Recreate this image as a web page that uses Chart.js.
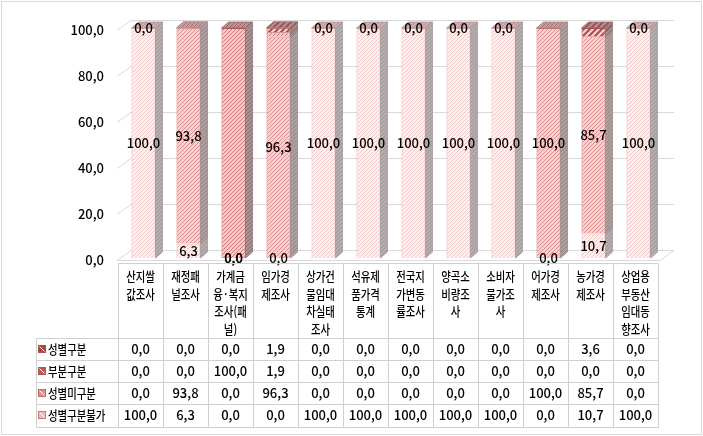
<!DOCTYPE html>
<html><head><meta charset="utf-8">
<script src="https://cdn.jsdelivr.net/npm/chart.js@4.4.1/dist/chart.umd.min.js"></script>
<style>html,body{margin:0;padding:0;background:#fff;}canvas{display:block;}</style>
</head><body>
<canvas id="c" width="703" height="436"></canvas>
<script>
// ---- data ----
const categories = [
  ['산지쌀','값조사'], ['재정패','널조사'], ['가계금','융·복지','조사(패','널)'], ['임가경','제조사'],
  ['상가건','물임대','차실태','조사'], ['석유제','품가격','통계'], ['전국지','가변동','률조사'], ['양곡소','비량조','사'],
  ['소비자','물가조','사'], ['어가경','제조사'], ['농가경','제조사'], ['상업용','부동산','임대동','향조사']
];
const seriesNames = ['성별구분', '부분구분', '성별미구분', '성별구분불가'];
const sexSplit     = [0, 0, 0, 1.9, 0, 0, 0, 0, 0, 0, 3.6, 0];
const partialSplit = [0, 0, 100, 1.9, 0, 0, 0, 0, 0, 0, 0, 0];
const notSplit     = [0, 93.8, 0, 96.3, 0, 0, 0, 0, 0, 100, 85.7, 0];
const cannotSplit  = [100, 6.3, 0, 0, 100, 100, 100, 100, 100, 0, 10.7, 100];
const yMin = 0, yMax = 100, yStep = 20;

// ---- styling helpers ----
const FONT = '"Noto Sans CJK KR", "Noto Sans", sans-serif';
const fmt = v => Number(v).toFixed(1).replace('.', ',');
function hatch(bg, fg, size, lw) {
  const c = document.createElement('canvas'); c.width = size; c.height = size;
  const x = c.getContext('2d');
  x.fillStyle = bg; x.fillRect(0, 0, size, size);
  x.strokeStyle = fg; x.lineWidth = lw; x.beginPath();
  x.moveTo(-1, 1); x.lineTo(1, -1);
  x.moveTo(0, size); x.lineTo(size, 0);
  x.moveTo(size - 1, size + 1); x.lineTo(size + 1, size - 1);
  x.stroke();
  return x.createPattern(c, 'repeat');
}
function narrowText(ctx, s, x, y, align, sx) {
  ctx.save(); ctx.translate(x, y); ctx.scale(sx, 1); ctx.textAlign = align; ctx.fillText(s, 0, 0); ctx.restore();
}
const WX = 14, WY = 10;   // wall depth
const BX = 7, BY = 6;     // bar depth
const SHIFT_X = 3, SHIFT_Y = -2;

function mk(label, data, st) {
  return Object.assign({ label, data, stack: 's', borderWidth: 1, barPercentage: 0.533, categoryPercentage: 1 }, st);
}
const datasets = [
  mk(seriesNames[3], cannotSplit, { backgroundColor: hatch('#fdf1f1', '#f3c6c6', 4, 1), borderColor: '#e8a9a9',
      sideFill: hatch('#b5adad', '#a09797', 4, 1), sideBorder: '#a39a9a', topFill: hatch('#d2afaf', '#bb8f8f', 4, 1), key: '#ebbcbc', showLabels: true }),
  mk(seriesNames[2], notSplit, { backgroundColor: hatch('#f8d2d2', '#dd8f8f', 4, 1), borderColor: '#cc6e6e',
      sideFill: hatch('#ad9f9f', '#968585', 4, 1), sideBorder: '#9a8a8a', topFill: hatch('#c79a9a', '#a97474', 4, 1), key: '#d99191', showLabels: true }),
  mk(seriesNames[1], partialSplit, { backgroundColor: hatch('#f5cccc', '#d27474', 4, 1), borderColor: '#b85252',
      sideFill: hatch('#a89090', '#8c7070', 4, 1), sideBorder: '#8c7070', topFill: hatch('#c29090', '#a06666', 4, 1), key: '#b85a5a', showLabels: false }),
  mk(seriesNames[0], sexSplit, { backgroundColor: hatch('#f6d6d6', '#b84a4a', 6, 2.2), borderColor: '#a84242',
      sideFill: hatch('#a88e8e', '#8a6262', 6, 2), sideBorder: '#8c7070', topFill: hatch('#c08c8c', '#9a5656', 6, 2), key: '#a44848', showLabels: false })
];

const threeD = {
  id: 'threeD',
  beforeDraw(chart) {
    const ctx = chart.ctx;
    ctx.save();
    ctx.fillStyle = '#fff'; ctx.fillRect(0, 0, chart.width, chart.height);
    ctx.strokeStyle = '#d9d9d9'; ctx.lineWidth = 1;
    ctx.strokeRect(1.5, 1.5, chart.width - 3, chart.height - 3);
    ctx.restore();
  },
  beforeDatasetsDraw(chart) {
    const { ctx, chartArea: a, scales: { y } } = chart;
    ctx.save();
    ctx.strokeStyle = '#d9d9d9'; ctx.lineWidth = 1;
    const y0 = Math.round(y.getPixelForValue(0)) + 0.5;
    ctx.beginPath();
    ctx.moveTo(a.left - 1, y0); ctx.lineTo(a.right + 2, y0);
    ctx.lineTo(a.right + 2 + WX, y0 - WY); ctx.lineTo(a.left - 1 + WX, y0 - WY); ctx.closePath();
    ctx.fillStyle = '#fff'; ctx.fill(); ctx.stroke();
    for (let v = yMin + yStep; v <= yMax; v += yStep) {
      const py = Math.round(y.getPixelForValue(v)) + 0.5;
      ctx.beginPath();
      ctx.moveTo(a.left - 1, py); ctx.lineTo(a.left - 1 + WX, py - WY); ctx.lineTo(a.right + 2 + WX, py - WY);
      ctx.stroke();
    }
    ctx.restore();
    ctx.save();
    ctx.translate(SHIFT_X, SHIFT_Y);
  },
  afterDatasetsDraw(chart) {
    const ctx = chart.ctx;
    const dsets = chart.data.datasets;
    const n = categories.length;
    // side faces
    dsets.forEach((ds, di) => {
      const m = chart.getDatasetMeta(di);
      m.data.forEach((bar, i) => {
        if (!ds.data[i]) return;
        const p = bar.getProps(['x', 'y', 'base', 'width'], true);
        const r = p.x + p.width / 2;
        const top = Math.min(p.y, p.base), bot = Math.max(p.y, p.base);
        ctx.beginPath();
        ctx.moveTo(r, bot); ctx.lineTo(r + BX, bot - BY); ctx.lineTo(r + BX, top - BY); ctx.lineTo(r, top); ctx.closePath();
        ctx.fillStyle = ds.sideFill; ctx.fill();
        ctx.strokeStyle = ds.sideBorder; ctx.lineWidth = 0.8; ctx.stroke();
      });
    });
    // top faces
    for (let i = 0; i < n; i++) {
      let topDi = -1;
      dsets.forEach((ds, di) => { if (ds.data[i] > 0) topDi = di; });
      if (topDi < 0) continue;
      const p = chart.getDatasetMeta(topDi).data[i].getProps(['x', 'y', 'base', 'width'], true);
      const l = p.x - p.width / 2, r = p.x + p.width / 2, t = Math.min(p.y, p.base);
      ctx.beginPath();
      ctx.moveTo(l, t); ctx.lineTo(r, t); ctx.lineTo(r + BX, t - BY); ctx.lineTo(l + BX, t - BY); ctx.closePath();
      ctx.fillStyle = dsets[topDi].topFill; ctx.fill();
      ctx.strokeStyle = dsets[topDi].sideBorder; ctx.lineWidth = 0.8; ctx.stroke();
    }
    // data labels
    ctx.font = '500 13px ' + FONT; ctx.fillStyle = '#000'; ctx.textAlign = 'center'; ctx.textBaseline = 'middle';
    dsets.forEach((ds, di) => {
      if (!ds.showLabels) return;
      chart.getDatasetMeta(di).data.forEach((bar, i) => {
        const p = bar.getProps(['x', 'y', 'base'], true);
        ctx.fillText(fmt(ds.data[i]), p.x, (p.y + p.base) / 2);
      });
    });
    ctx.restore();

    // ---- data table ----
    const a = chart.chartArea, xs = chart.scales.x;
    const colW = (a.right - a.left) / n;
    const tTop = Math.round(a.bottom) + 3.5;
    const headH = 74, rowH = 22.25, labelLeft = 36.5;
    const rowsTop = tTop + headH;
    const tRight = Math.round(a.right) + 0.5;
    ctx.save();
    ctx.strokeStyle = '#d0d0d0'; ctx.lineWidth = 1;
    ctx.beginPath();
    ctx.moveTo(a.left + 0.5, tTop); ctx.lineTo(tRight, tTop);
    for (let r = 0; r <= 4; r++) {
      const yy = Math.round(rowsTop + r * rowH) + 0.5;
      ctx.moveTo(labelLeft, yy); ctx.lineTo(tRight, yy);
    }
    for (let i = 0; i <= n; i++) {
      const xx = Math.round(xs.getPixelForValue(i) - colW / 2) + 0.5;
      ctx.moveTo(xx, tTop); ctx.lineTo(xx, Math.round(rowsTop + 4 * rowH) + 0.5);
    }
    ctx.moveTo(labelLeft, Math.round(rowsTop) + 0.5); ctx.lineTo(labelLeft, Math.round(rowsTop + 4 * rowH) + 0.5);
    ctx.stroke();

    ctx.fillStyle = '#000'; ctx.textBaseline = 'middle';
    ctx.font = '500 13px ' + FONT;
    categories.forEach((lines, i) => {
      const cx = xs.getPixelForValue(i);
      lines.forEach((ln, k) => narrowText(ctx, ln, cx, tTop + 12.5 + k * 17.6, 'center', 0.8));
    });
    const rows = dsets.slice().reverse();
    rows.forEach((ds, r) => {
      const cy = rowsTop + r * rowH + rowH / 2;
      ctx.fillStyle = ds.key; ctx.fillRect(38, Math.round(cy) - 4, 8, 8);
      ctx.strokeStyle = '#fff'; ctx.lineWidth = 1;
      ctx.beginPath(); ctx.moveTo(39.5, Math.round(cy) - 2.5); ctx.lineTo(44.5, Math.round(cy) + 2.5); ctx.stroke();
      ctx.strokeStyle = '#9a5a5a'; ctx.lineWidth = 0.6; ctx.strokeRect(38.3, Math.round(cy) - 3.7, 7.4, 7.4);
      ctx.fillStyle = '#000'; ctx.font = '500 13px ' + FONT;
      narrowText(ctx, ds.label, 48, cy, 'left', 0.8);
      ctx.textAlign = 'center';
      ds.data.forEach((v, i) => ctx.fillText(fmt(v), xs.getPixelForValue(i), cy));
    });
    ctx.restore();
  }
};

new Chart(document.getElementById('c'), {
  type: 'bar',
  data: { labels: categories.map(c => c.join('')), datasets },
  options: {
    responsive: false, animation: false, devicePixelRatio: 1, events: [],
    layout: { padding: { top: 30, bottom: 176, right: 45, left: 0 } },
    plugins: { legend: { display: false }, tooltip: { enabled: false } },
    scales: {
      x: { stacked: true, display: false },
      y: {
        stacked: true, min: yMin, max: yMax,
        ticks: { stepSize: yStep, callback: v => fmt(v), color: '#000', font: { family: FONT, size: 13, weight: '500' }, padding: 14 },
        grid: { display: false, drawTicks: false }, border: { display: false },
        afterFit: s => { s.width = 118; }
      }
    }
  },
  plugins: [threeD]
});
</script>
</body></html>
